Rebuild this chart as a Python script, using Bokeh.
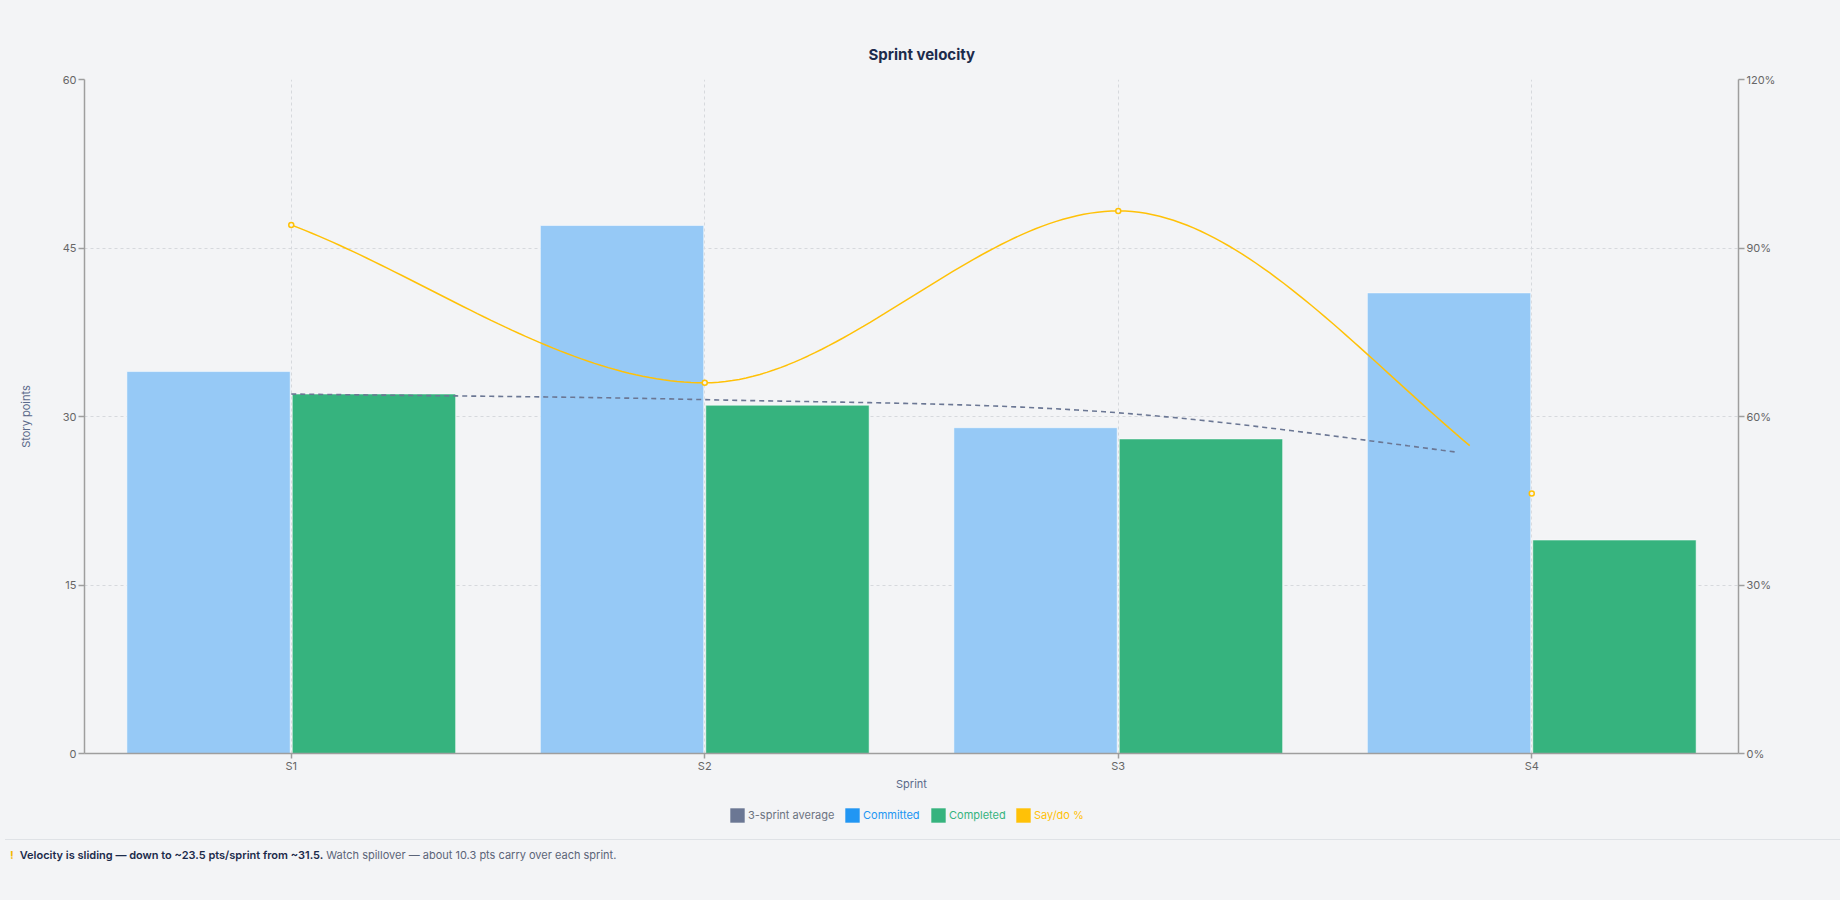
import numpy as np
from bokeh.plotting import figure
from bokeh.models import (ColumnDataSource, Range1d, FactorRange, LinearAxis, FixedTicker,
                          PrintfTickFormatter, Legend, LegendItem, Div)
from bokeh.transform import dodge
from bokeh.layouts import column
from bokeh.embed import file_html
from bokeh.resources import INLINE

# ---------------- data ----------------
sprints = ["S1", "S2", "S3", "S4"]
committed = [34, 47, 29, 41]
completed = [32, 31, 28, 19]
rolling_avg = [32.0, 31.5, 30.33, 26.0]
say_do_pct = [94.1, 66.0, 96.6, 46.3]
y_ticks = [0, 15, 30, 45, 60]
pct_ticks = [0, 30, 60, 90, 120]

# how far along the last segment each line is drawn (as in the reference)
avg_drawn_to = 2.83
saydo_drawn_to = 2.85

# ---------------- style ----------------
BG = "#f3f4f6"
GRID = "#d6d9dd"
AXIS = "#9e9e9e"
TICK_TXT = "#666666"
LABEL_TXT = "#5b6a8a"
NAVY = "#1c2b4b"
COMMIT = "#2196f3"
COMMIT_FILL = "#96c9f6"
DONE = "#36b37e"
AMBER = "#ffc107"
SLATE = "#6b7794"
FONT = "Inter"


def monotone_curve(ys, upto, n=60):
    """Monotone cubic (Fritsch-Carlson) path through the points, x = index."""
    k = len(ys)
    d = [ys[i + 1] - ys[i] for i in range(k - 1)]
    m = [0.0] * k
    m[0], m[-1] = d[0], d[-1]
    for i in range(1, k - 1):
        m[i] = 0.0 if d[i - 1] * d[i] <= 0 else (d[i - 1] + d[i]) / 2
    for i in range(k - 1):
        if d[i] == 0:
            m[i] = m[i + 1] = 0.0
            continue
        a, b = m[i] / d[i], m[i + 1] / d[i]
        s = a * a + b * b
        if s > 9:
            t = 3 / s ** 0.5
            m[i], m[i + 1] = t * a * d[i], t * b * d[i]
    xs, out = [], []
    for i in range(k - 1):
        for j in range(n + 1):
            s = j / n
            x = i + s
            if x > upto + 1e-9:
                break
            h00 = 2 * s**3 - 3 * s**2 + 1
            h10 = s**3 - 2 * s**2 + s
            h01 = -2 * s**3 + 3 * s**2
            h11 = s**3 - s**2
            xs.append(x + 0.5)
            out.append(h00 * ys[i] + h10 * m[i] + h01 * ys[i + 1] + h11 * m[i + 1])
    return xs, out


p = figure(
    x_range=FactorRange(factors=sprints), y_range=Range1d(0, 60),
    width=1840, height=800, output_backend="svg", toolbar_location=None,
    min_border_left=84, min_border_right=102, min_border_top=79, min_border_bottom=47,
    background_fill_color=BG, border_fill_color=BG, outline_line_color=None,
)

p.title.text = "Sprint velocity"
p.title.align = "left"
p.title.offset = 784
p.title.text_font = FONT
p.title.text_font_size = "15px"
p.title.text_font_style = "bold"
p.title.text_color = NAVY
p.title.standoff = 32

# grids
for g in (p.xgrid, p.ygrid):
    g.grid_line_color = GRID
    g.grid_line_dash = "3 3"
    g.grid_line_width = 1
p.ygrid.ticker = FixedTicker(ticks=y_ticks)

# left axis
p.yaxis.ticker = FixedTicker(ticks=y_ticks)
p.yaxis.axis_label = "Story points"

# right axis
p.extra_y_ranges = {"pct": Range1d(0, 120)}
right = LinearAxis(y_range_name="pct", ticker=FixedTicker(ticks=pct_ticks),
                   formatter=PrintfTickFormatter(format="%d%%"))
p.add_layout(right, "right")

p.xaxis.axis_label = "Sprint"

for ax in p.yaxis + p.xaxis:
    ax.axis_line_color = AXIS
    ax.axis_line_width = 1.5
    ax.major_tick_line_color = AXIS
    ax.major_tick_line_width = 1.5
    ax.major_tick_in = 0
    ax.major_tick_out = 6
    ax.minor_tick_line_color = None
    ax.major_label_text_font = FONT
    ax.major_label_text_font_size = "11px"
    ax.major_label_text_color = TICK_TXT
    ax.major_label_standoff = 2
    ax.axis_label_text_font = FONT
    ax.axis_label_text_font_size = "11px"
    ax.axis_label_text_font_style = "normal"
    ax.axis_label_text_color = LABEL_TXT
p.xaxis.major_tick_out = 5
p.xaxis.major_label_standoff = 0
p.xaxis.axis_label_standoff = 1
p.yaxis[0].axis_label_standoff = 27

# bars
src = ColumnDataSource(dict(sprint=sprints, committed=committed, completed=completed))
p.vbar(x=dodge("sprint", -0.2, range=p.x_range), top="committed", width=0.395, source=src,
       fill_color=COMMIT_FILL, line_color="#ffffff", line_alpha=0.5, line_width=1)
p.vbar(x=dodge("sprint", 0.2, range=p.x_range), top="completed", width=0.395, source=src,
       fill_color=DONE, line_color="#ffffff", line_alpha=0.5, line_width=1)

# 3-sprint average (dashed, smooth)
ax_, ay_ = monotone_curve(rolling_avg, avg_drawn_to)
p.line(ax_, ay_, line_color=SLATE, line_width=1.6, line_dash="5 4")

# say/do % (smooth, right axis)
sx_, sy_ = monotone_curve(say_do_pct, saydo_drawn_to)
p.line(sx_, sy_, y_range_name="pct", line_color=AMBER, line_width=1.5)
p.scatter(x=sprints, y=say_do_pct, y_range_name="pct", size=5, marker="circle",
          fill_color=BG, line_color=AMBER, line_width=1.5)

# ---------------- legend strip ----------------
lf = figure(width=1840, height=34, x_range=Range1d(0, 1), y_range=Range1d(0, 1),
            x_axis_type=None, y_axis_type=None, min_border=0, output_backend="svg",
            toolbar_location=None, outline_line_color=None,
            background_fill_color=BG, border_fill_color=BG)

# (label, key colour, text colour, x offset from the plot frame's left edge)
legend_specs = [
    ("3-sprint average", SLATE, "#6b7280", 644),
    ("Committed", COMMIT, COMMIT, 759),
    ("Completed", DONE, DONE, 845),
    ("Say/do %", AMBER, AMBER, 930),
]
nan = np.array([np.nan])
for label, col, tcol, lx in legend_specs:
    r = lf.quad(left=nan, right=nan, top=nan, bottom=nan, fill_color=col, line_color=None)
    leg = Legend(items=[LegendItem(label=label, renderers=[r])], location=(lx, 10),
                 orientation="horizontal", padding=0, margin=0, spacing=0,
                 label_standoff=2, glyph_width=18, glyph_height=18, label_height=18,
                 label_text_font=FONT, label_text_font_size="11px",
                 label_text_color=tcol, label_text_baseline="middle",
                 background_fill_alpha=0, border_line_alpha=0)
    lf.add_layout(leg)

footer = Div(
    text=(
        '<div style="width:1840px;border-top:1px solid #dfe2e6;'
        'padding:8px 0 0 5px;font-family:Inter;font-size:11px;line-height:14px;'
        'white-space:nowrap;box-sizing:border-box;">'
        '<span style="color:#f5b800;font-weight:700;margin-right:6px;">!</span>'
        '<span style="color:#1c2b4b;font-weight:600;">Velocity is sliding \u2014 down to ~23.5 '
        'pts/sprint from ~31.5.</span> '
        '<span style="color:#5b6478;">Watch spillover \u2014 about 10.3 pts carry over each '
        'sprint.</span></div>'
    ),
    width=1840, height=50,
)

layout = column(p, lf, footer, spacing=0)

html = file_html(layout, INLINE, title="Sprint velocity")
html = html.replace("</head>", "<style>html,body{background:#f3f4f6;}</style></head>", 1)
open("out.html", "w").write(html)
